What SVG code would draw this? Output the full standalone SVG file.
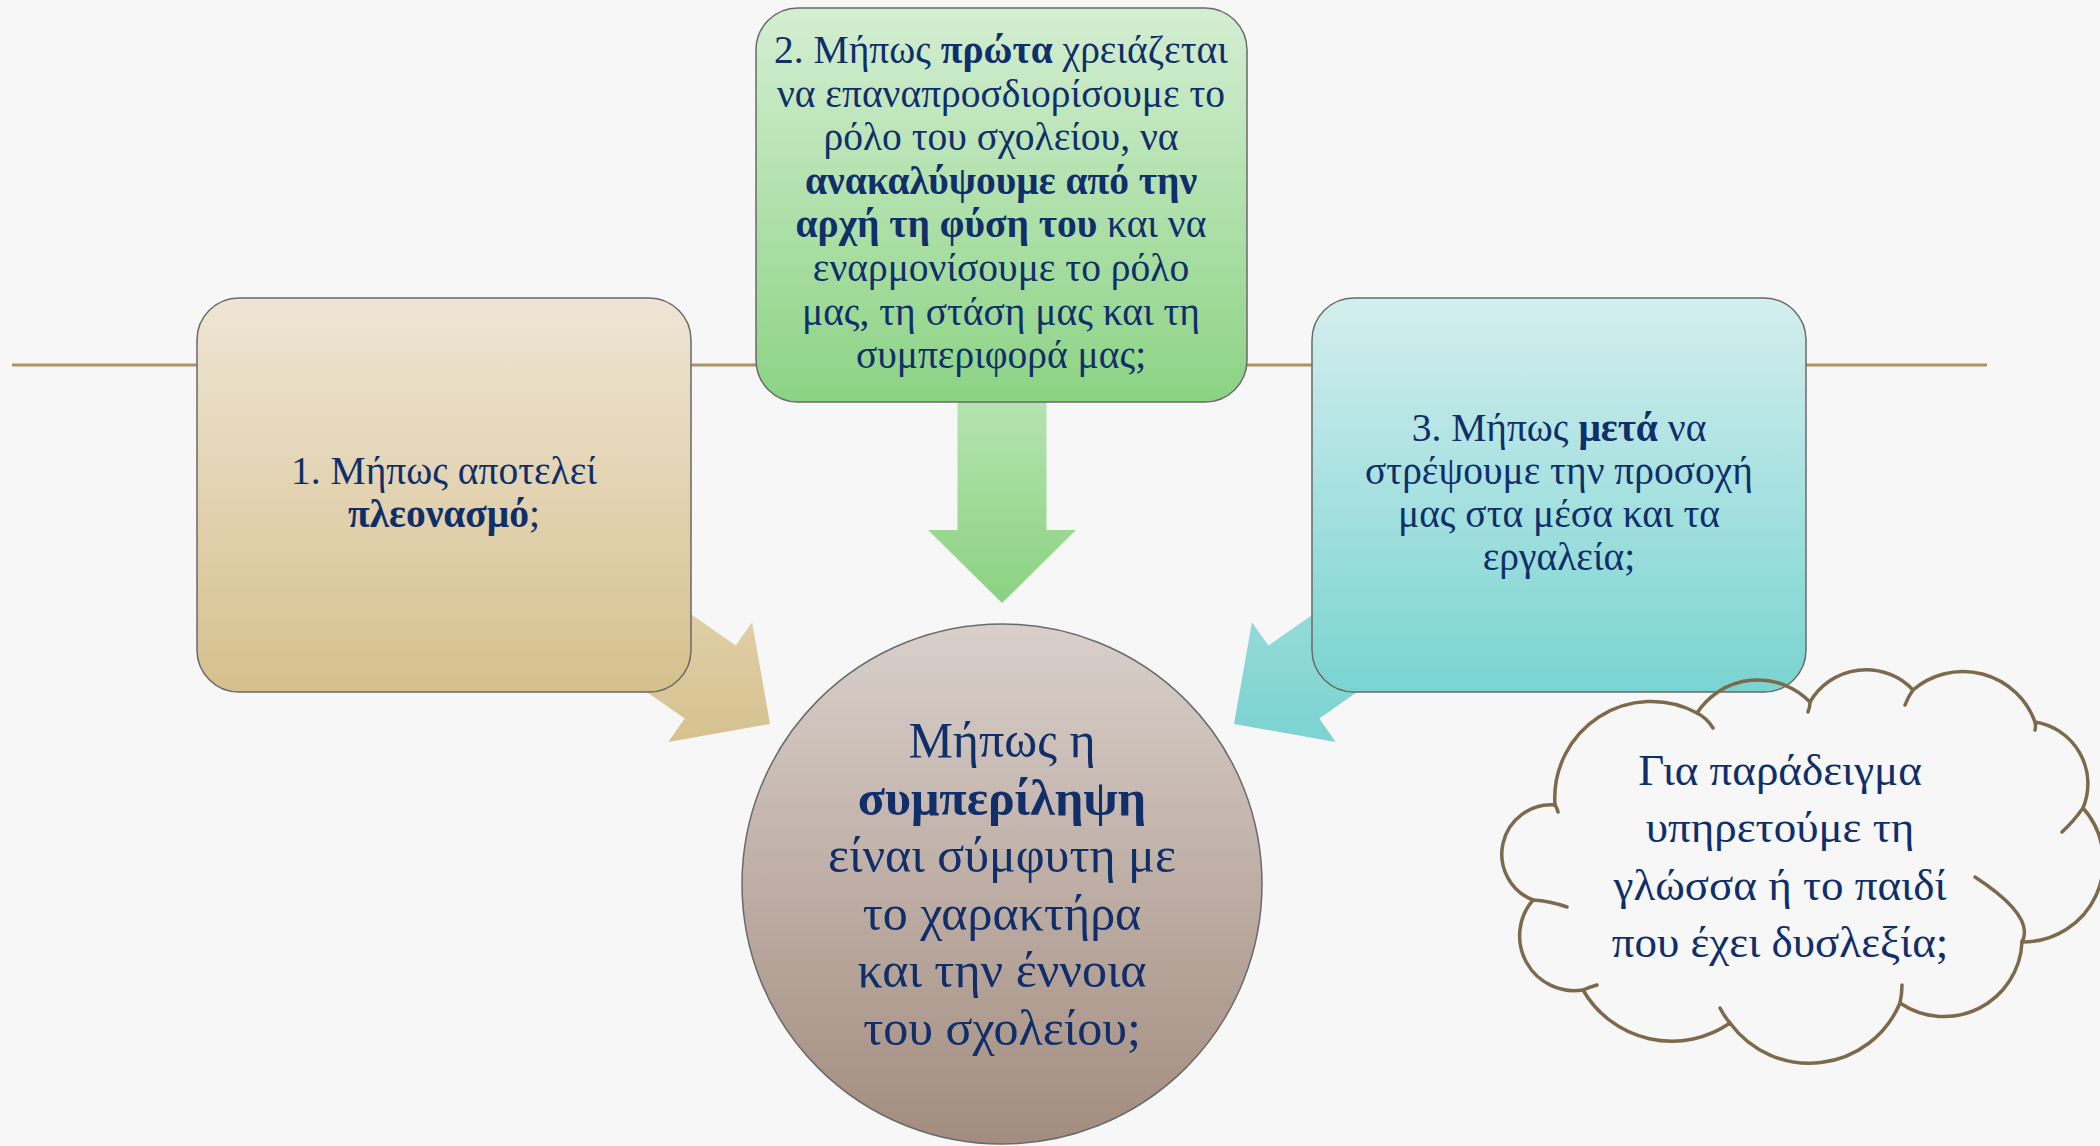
<svg xmlns="http://www.w3.org/2000/svg" width="2100" height="1146" viewBox="0 0 2100 1146">
<defs>
<linearGradient id="gTan" x1="0" y1="0" x2="0" y2="1"><stop offset="0" stop-color="#efe5d5"/><stop offset="1" stop-color="#d5c08c"/></linearGradient>
<linearGradient id="gGreen" x1="0" y1="0" x2="0" y2="1"><stop offset="0" stop-color="#d4eed2"/><stop offset="1" stop-color="#8cd384"/></linearGradient>
<linearGradient id="gTeal" x1="0" y1="0" x2="0" y2="1"><stop offset="0" stop-color="#d3eeee"/><stop offset="1" stop-color="#79d4d1"/></linearGradient>
<linearGradient id="gCircle" x1="0" y1="0" x2="0" y2="1"><stop offset="0" stop-color="#d9d0cb"/><stop offset="1" stop-color="#a38c7f"/></linearGradient>
<linearGradient id="aTan" x1="0" y1="0" x2="0" y2="1"><stop offset="0" stop-color="#e6d7b4"/><stop offset="1" stop-color="#d6c18e"/></linearGradient>
<linearGradient id="aGreen" x1="0" y1="0" x2="0" y2="1"><stop offset="0" stop-color="#b6e4b0"/><stop offset="1" stop-color="#8bd282"/></linearGradient>
<linearGradient id="aTeal" x1="0" y1="0" x2="0" y2="1"><stop offset="0" stop-color="#a2dfde"/><stop offset="1" stop-color="#7bd3d1"/></linearGradient>
</defs>
<style>
.box{stroke:#6a6a6a;stroke-width:1.5}
.t{font-family:"Liberation Serif","DejaVu Serif",serif;fill:#102f6a;text-anchor:middle}
.s36{font-size:39.5px}
.s48{font-size:50px}
.s44{font-size:45px}
.b{font-weight:bold}
.cloud{fill:none;stroke:#7d6a4c;stroke-width:3.5;stroke-linecap:round}
</style>
<rect width="2100" height="1146" fill="#f7f7f7"/>
<g id="timeline">
<line x1="12" y1="365" x2="1987" y2="365" stroke="#ad9264" stroke-width="3"/>
</g>
<g id="connectors">
<polygon fill="url(#aTan)" points="590.7,544.1 735.7,645.6 752.1,622.3 770,724 668.3,741.9 684.7,718.6 539.7,617.1"/>
<polygon fill="url(#aGreen)" points="957.5,395 1046.5,395 1046.5,530 1076,530 1002,603 928,530 957.5,530"/>
<polygon fill="url(#aTeal)" points="1413.3,544.1 1268.3,645.6 1251.9,622.3 1234,724 1335.7,741.9 1319.3,718.6 1464.3,617.1"/>
</g>
<g id="node-1">
<rect class="box" x="197" y="298" width="494" height="394" rx="42" fill="url(#gTan)"/>
<text class="t s36" x="444" y="484">1. Μήπως αποτελεί</text>
<text class="t s36" x="444" y="527"><tspan class="b">πλεονασμό</tspan>;</text>
</g>
<g id="node-2">
<rect class="box" x="756" y="8" width="491" height="394" rx="42" fill="url(#gGreen)"/>
<text class="t s36" x="1001" y="63">2. Μήπως <tspan class="b">πρώτα</tspan> χρειάζεται</text>
<text class="t s36" x="1001" y="106.6">να επαναπροσδιορίσουμε το</text>
<text class="t s36" x="1001" y="150.2">ρόλο του σχολείου, να</text>
<text class="t s36 b" x="1001" y="193.8">ανακαλύψουμε από την</text>
<text class="t s36" x="1001" y="237.4"><tspan class="b">αρχή τη φύση του</tspan> και να</text>
<text class="t s36" x="1001" y="281">εναρμονίσουμε το ρόλο</text>
<text class="t s36" x="1001" y="324.6">μας, τη στάση μας και τη</text>
<text class="t s36" x="1001" y="368.2">συμπεριφορά μας;</text>
</g>
<g id="node-3">
<rect class="box" x="1312" y="298" width="494" height="394" rx="42" fill="url(#gTeal)"/>
<text class="t s36" x="1559" y="441">3. Μήπως <tspan class="b">μετά</tspan> να</text>
<text class="t s36" x="1559" y="484">στρέψουμε την προσοχή</text>
<text class="t s36" x="1559" y="527">μας στα μέσα και τα</text>
<text class="t s36" x="1559" y="570">εργαλεία;</text>
</g>
<g id="node-center">
<circle class="box" cx="1002" cy="884" r="260" fill="url(#gCircle)"/>
<text class="t s48" x="1002" y="757">Μήπως η</text>
<text class="t s48 b" x="1002" y="815">συμπερίληψη</text>
<text class="t s48" x="1002" y="872">είναι σύμφυτη με</text>
<text class="t s48" x="1002" y="930">το χαρακτήρα</text>
<text class="t s48" x="1002" y="987">και την έννοια</text>
<text class="t s48" x="1002" y="1045">του σχολείου;</text>
</g>
<g id="node-cloud">
<path class="cloud" d="M1555,805 A96.6,96.6 0 0 1 1697,713 A72.6,72.6 0 0 1 1810,702 A64.7,64.7 0 0 1 1913,690 A76.7,76.7 0 0 1 2035,722 A62.5,62.5 0 0 1 2083,808 A80.4,80.4 0 0 1 2022,942 A78.1,78.1 0 0 1 1900,1003 A98.3,98.3 0 0 1 1730,1023 A102.5,102.5 0 0 1 1583,990 A54.8,54.8 0 0 1 1533,900 A49.3,49.3 0 0 1 1555,805 Z"/>
<path class="cloud" d="M1697,713 Q1707,718 1713,728 M1810,702 Q1810,707 1808,712 M1913,690 Q1908,697 1905,705 M2035,722 Q2036,726 2035,730 M2083,808 Q2073,822 2062,832 M2022,942 Q2035.5,916.5 1975,877 M1900,1003 Q1902,994 1902,985 M1730,1023 Q1724,1016 1720,1008 M1583,990 Q1590,987 1597,985 M1533,900 Q1550,901 1567,907 M1555,805 Q1557,808 1558,812"/>
<text class="t s44" x="1780" y="785">Για παράδειγμα</text>
<text class="t s44" x="1780" y="842">υπηρετούμε τη</text>
<text class="t s44" x="1780" y="900">γλώσσα ή το παιδί</text>
<text class="t s44" x="1780" y="957">που έχει δυσλεξία;</text>
</g>
</svg>
